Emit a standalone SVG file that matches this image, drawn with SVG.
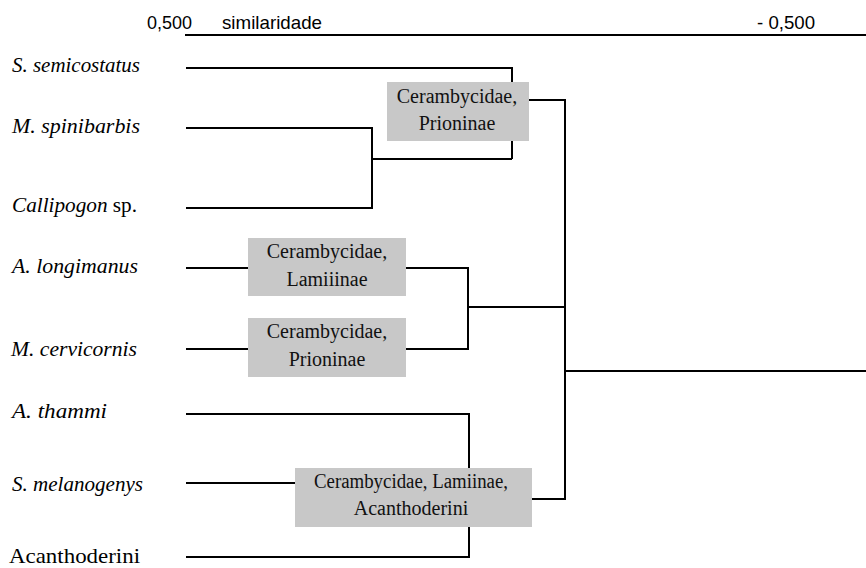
<svg xmlns="http://www.w3.org/2000/svg" width="866" height="568" viewBox="0 0 866 568">
<style>
.ln{fill:none;stroke:#000;stroke-width:2;stroke-linecap:butt;stroke-linejoin:miter}
.ax{font-family:'Liberation Sans',Arial,sans-serif;font-size:19px;fill:#000}
.lf{font-family:'Liberation Serif','DejaVu Serif',serif;font-size:21px;fill:#000}
.it{font-style:italic}
.bx{fill:#c8c8c8}
.bt{font-family:'Liberation Serif','DejaVu Serif',serif;font-size:20px;fill:#111;text-anchor:middle}
</style>
<rect width="866" height="568" fill="#fff"/>
<g id="axis">
<line class="ln" x1="185" y1="35" x2="866" y2="35"/>
<text class="ax" x="147" y="29" textLength="45" lengthAdjust="spacingAndGlyphs">0,500</text>
<text class="ax" x="222" y="29" textLength="100" lengthAdjust="spacingAndGlyphs">similaridade</text>
<text class="ax" x="757" y="29" textLength="58" lengthAdjust="spacingAndGlyphs">- 0,500</text>
</g>
<g id="connectors">
<polyline class="ln" points="186,68 512,68 512,159"/>
<polyline class="ln" points="186,128 372,128 372,208 186,208"/>
<line class="ln" x1="372" y1="159" x2="512" y2="159"/>
<polyline class="ln" points="529,100 565,100 565,499 532,499"/>
<line class="ln" x1="565" y1="371" x2="866" y2="371"/>
<polyline class="ln" points="186,268 468,268 468,349 186,349"/>
<line class="ln" x1="468" y1="307" x2="565" y2="307"/>
<polyline class="ln" points="186,414 469,414 469,557 186,557"/>
<line class="ln" x1="186" y1="483" x2="295" y2="483"/>
</g>
<g id="leaf-semicostatus"><text class="lf it" x="12" y="72" textLength="128" lengthAdjust="spacingAndGlyphs">S. semicostatus</text></g>
<g id="leaf-spinibarbis"><text class="lf it" x="12" y="133" textLength="128" lengthAdjust="spacingAndGlyphs">M. spinibarbis</text></g>
<g id="leaf-callipogon"><text class="lf" x="12" y="212" textLength="125" lengthAdjust="spacingAndGlyphs"><tspan class="it">Callipogon</tspan> sp.</text></g>
<g id="leaf-longimanus"><text class="lf it" x="12" y="273" textLength="126" lengthAdjust="spacingAndGlyphs">A. longimanus</text></g>
<g id="leaf-cervicornis"><text class="lf it" x="11" y="356" textLength="126" lengthAdjust="spacingAndGlyphs">M. cervicornis</text></g>
<g id="leaf-thammi"><text class="lf it" x="12" y="418" textLength="95" lengthAdjust="spacingAndGlyphs">A. thammi</text></g>
<g id="leaf-melanogenys"><text class="lf it" x="12" y="491" textLength="131" lengthAdjust="spacingAndGlyphs">S. melanogenys</text></g>
<g id="leaf-acanthoderini"><text class="lf" x="9" y="563" textLength="131" lengthAdjust="spacingAndGlyphs">Acanthoderini</text></g>
<g id="box-prioninae-1">
<rect class="bx" x="387" y="82" width="142" height="59"/>
<text class="bt" x="457" y="103">Cerambycidae,</text>
<text class="bt" x="457" y="130">Prioninae</text>
</g>
<g id="box-lamiinae">
<rect class="bx" x="248" y="238" width="158" height="58"/>
<text class="bt" x="327" y="258">Cerambycidae,</text>
<text class="bt" x="327" y="286">Lamiiinae</text>
</g>
<g id="box-prioninae-2">
<rect class="bx" x="248" y="318" width="158" height="59"/>
<text class="bt" x="327" y="338">Cerambycidae,</text>
<text class="bt" x="327" y="366">Prioninae</text>
</g>
<g id="box-acanthoderini">
<rect class="bx" x="295" y="468" width="237" height="59"/>
<text class="bt" x="411" y="488" textLength="194" lengthAdjust="spacingAndGlyphs">Cerambycidae, Lamiinae,</text>
<text class="bt" x="411" y="515">Acanthoderini</text>
</g>
</svg>
